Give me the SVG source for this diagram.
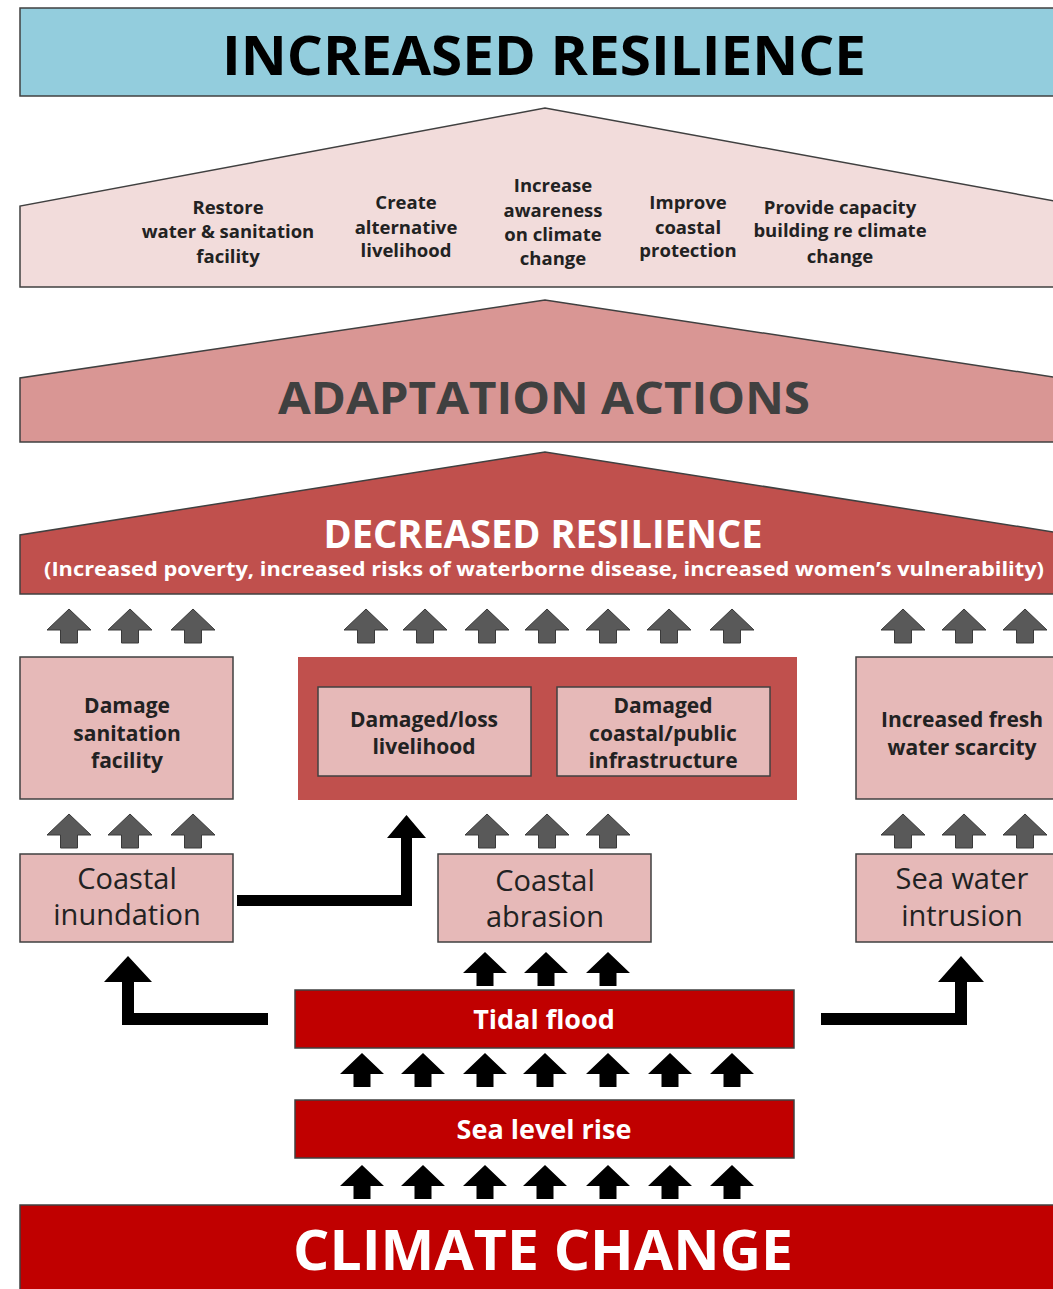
<svg xmlns="http://www.w3.org/2000/svg" width="1053" height="1289" viewBox="0 0 1053 1289">
<style>
text{font-family:"Open Sans","Liberation Sans",sans-serif;text-anchor:middle}
.b{font-weight:bold}
.edge{stroke:#404040;stroke-width:1.5}
.pink{fill:#e6b9b8}
.red{fill:#c00000}
.sm{font-size:18.5px;font-weight:bold;fill:#222}
.bx{font-size:21px;font-weight:bold;fill:#222}
.rg{font-size:29px;fill:#222}
.wt{font-size:27px;font-weight:bold;fill:#fff}
.ga{fill:#595959;stroke:#3a3a3a;stroke-width:1}
.ba{fill:#000}
</style>
<defs>
<path id="ua" d="M0,0 L22,21 L8.5,21 L8.5,34 L-8.5,34 L-8.5,21 L-22,21 Z"/>
</defs>
<rect width="1053" height="1289" fill="#fff"/>

<g id="increased-resilience">
<rect x="20" y="8" width="1040" height="88" fill="#93cddd" class="edge"/>
<text x="544" y="75" class="b" font-size="54" textLength="644" lengthAdjust="spacingAndGlyphs" fill="#000">INCREASED RESILIENCE</text>
</g>

<g id="actions-roof">
<path d="M20,287 L20,206 L545,108 L1060,202 L1060,287 Z" fill="#f2dcdb" class="edge"/>
<text class="sm" x="228"><tspan x="228" y="214">Restore</tspan><tspan x="228" y="238">water &amp; sanitation</tspan><tspan x="228" y="263">facility</tspan></text>
<text class="sm" x="406"><tspan x="406" y="209">Create</tspan><tspan x="406" y="234">alternative</tspan><tspan x="406" y="257">livelihood</tspan></text>
<text class="sm" x="553"><tspan x="553" y="192">Increase</tspan><tspan x="553" y="217">awareness</tspan><tspan x="553" y="241">on climate</tspan><tspan x="553" y="265">change</tspan></text>
<text class="sm" x="688"><tspan x="688" y="209">Improve</tspan><tspan x="688" y="234">coastal</tspan><tspan x="688" y="257">protection</tspan></text>
<text class="sm" x="840"><tspan x="840" y="214">Provide capacity</tspan><tspan x="840" y="237">building re climate</tspan><tspan x="840" y="263">change</tspan></text>
</g>

<g id="adaptation-actions">
<path d="M20,442 L20,378 L545,300 L1060,378 L1060,442 Z" fill="#d99694" class="edge"/>
<text x="544" y="414" class="b" font-size="44" textLength="532" lengthAdjust="spacingAndGlyphs" fill="#404040">ADAPTATION ACTIONS</text>
</g>

<g id="decreased-resilience">
<path d="M20,594 L20,535 L545,452 L1060,533 L1060,594 Z" fill="#c0504d" class="edge"/>
<text x="543" y="548" class="b" font-size="40" textLength="439" lengthAdjust="spacingAndGlyphs" fill="#fff">DECREASED RESILIENCE</text>
<text x="544" y="576" class="b" font-size="19" textLength="1000" lengthAdjust="spacingAndGlyphs" fill="#fff">(Increased poverty, increased risks of waterborne disease, increased women’s vulnerability)</text>
</g>

<g id="damage-sanitation">
<rect x="20" y="657" width="213" height="142" class="pink edge"/>
<text class="bx"><tspan x="127" y="713">Damage</tspan><tspan x="127" y="741">sanitation</tspan><tspan x="127" y="768">facility</tspan></text>
</g>

<g id="damage-group">
<rect x="298" y="657" width="499" height="143" fill="#c0504d"/>
</g>
<g id="damaged-livelihood">
<rect x="318" y="687" width="213" height="89" class="pink edge"/>
<text class="bx"><tspan x="424" y="727">Damaged/loss</tspan><tspan x="424" y="754">livelihood</tspan></text>
</g>
<g id="damaged-infrastructure">
<rect x="557" y="687" width="213" height="89" class="pink edge"/>
<text class="bx"><tspan x="663" y="713">Damaged</tspan><tspan x="663" y="741">coastal/public</tspan><tspan x="663" y="768">infrastructure</tspan></text>
</g>

<g id="fresh-water-scarcity">
<rect x="856" y="657" width="204" height="142" class="pink edge"/>
<text class="bx"><tspan x="962" y="727">Increased fresh</tspan><tspan x="962" y="755">water scarcity</tspan></text>
</g>

<g id="coastal-inundation">
<rect x="20" y="854" width="213" height="88" class="pink edge"/>
<text class="rg"><tspan x="127" y="889">Coastal</tspan><tspan x="127" y="925">inundation</tspan></text>
</g>
<g id="coastal-abrasion">
<rect x="438" y="854" width="213" height="88" class="pink edge"/>
<text class="rg"><tspan x="545" y="891">Coastal</tspan><tspan x="545" y="927">abrasion</tspan></text>
</g>
<g id="sea-water-intrusion">
<rect x="856" y="854" width="204" height="88" class="pink edge"/>
<text class="rg"><tspan x="962" y="889">Sea water</tspan><tspan x="962" y="926">intrusion</tspan></text>
</g>

<g id="tidal-flood">
<rect x="295" y="990" width="499" height="58" class="red edge"/>
<text x="544" y="1029" class="wt">Tidal flood</text>
</g>
<g id="sea-level-rise">
<rect x="295" y="1100" width="499" height="58" class="red edge"/>
<text x="544" y="1139" class="wt">Sea level rise</text>
</g>
<g id="climate-change">
<rect x="20" y="1205" width="1040" height="90" class="red edge"/>
<text x="543" y="1270" class="b" font-size="56" textLength="500" lengthAdjust="spacingAndGlyphs" fill="#fff">CLIMATE CHANGE</text>
</g>

<g id="connectors">
<g class="ga">
<use href="#ua" x="69" y="609"/><use href="#ua" x="130" y="609"/><use href="#ua" x="193" y="609"/>
<use href="#ua" x="366" y="609"/><use href="#ua" x="425" y="609"/><use href="#ua" x="487" y="609"/><use href="#ua" x="547" y="609"/><use href="#ua" x="608" y="609"/><use href="#ua" x="669" y="609"/><use href="#ua" x="732" y="609"/>
<use href="#ua" x="903" y="609"/><use href="#ua" x="964" y="609"/><use href="#ua" x="1025" y="609"/>
<use href="#ua" x="69" y="814"/><use href="#ua" x="130" y="814"/><use href="#ua" x="193" y="814"/>
<use href="#ua" x="487" y="814"/><use href="#ua" x="547" y="814"/><use href="#ua" x="608" y="814"/>
<use href="#ua" x="903" y="814"/><use href="#ua" x="964" y="814"/><use href="#ua" x="1025" y="814"/>
</g>
<g class="ba">
<use href="#ua" x="485" y="952"/><use href="#ua" x="546" y="952"/><use href="#ua" x="608" y="952"/>
<use href="#ua" x="362" y="1053"/><use href="#ua" x="423" y="1053"/><use href="#ua" x="485" y="1053"/><use href="#ua" x="545" y="1053"/><use href="#ua" x="608" y="1053"/><use href="#ua" x="670" y="1053"/><use href="#ua" x="732" y="1053"/>
<use href="#ua" x="362" y="1165"/><use href="#ua" x="423" y="1165"/><use href="#ua" x="485" y="1165"/><use href="#ua" x="545" y="1165"/><use href="#ua" x="608" y="1165"/><use href="#ua" x="670" y="1165"/><use href="#ua" x="732" y="1165"/>
<path d="M237,895 L401,895 L401,838 L387,838 L406.5,815 L426,838 L412,838 L412,906 L237,906 Z"/>
<path d="M268,1013 L134,1013 L134,982 L152,982 L128,956 L104,982 L122,982 L122,1025 L268,1025 Z"/>
<path d="M821,1013 L955,1013 L955,982 L938,982 L961,956 L984,982 L967,982 L967,1025 L821,1025 Z"/>
</g>
</g>
</svg>
